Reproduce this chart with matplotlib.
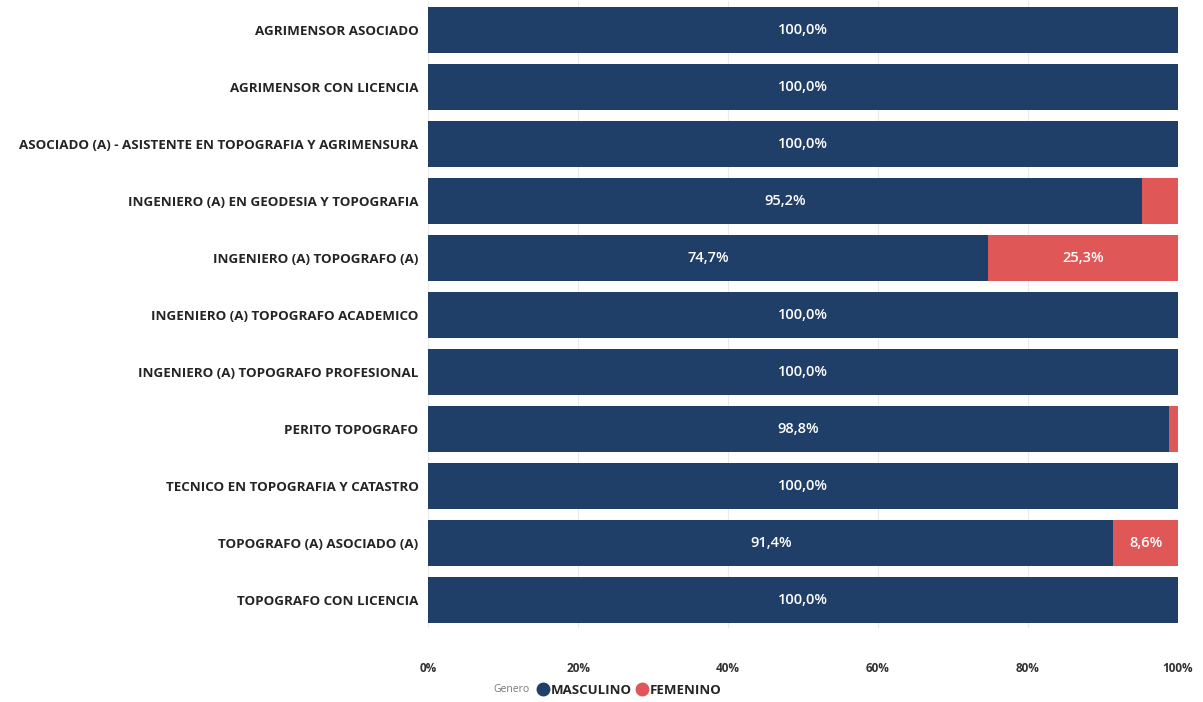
import matplotlib
matplotlib.use("Agg")
import matplotlib.pyplot as plt
from matplotlib.lines import Line2D
from matplotlib.ticker import FuncFormatter

# Participacion por genero segun titulo profesional
titulos = [
    "AGRIMENSOR ASOCIADO",
    "AGRIMENSOR CON LICENCIA",
    "ASOCIADO (A) - ASISTENTE EN TOPOGRAFIA Y AGRIMENSURA",
    "INGENIERO (A) EN GEODESIA Y TOPOGRAFIA",
    "INGENIERO (A) TOPOGRAFO (A)",
    "INGENIERO (A) TOPOGRAFO ACADEMICO",
    "INGENIERO (A) TOPOGRAFO PROFESIONAL",
    "PERITO TOPOGRAFO",
    "TECNICO EN TOPOGRAFIA Y CATASTRO",
    "TOPOGRAFO (A) ASOCIADO (A)",
    "TOPOGRAFO CON LICENCIA",
]
masculino = [100.0, 100.0, 100.0, 95.2, 74.7, 100.0, 100.0, 98.8, 100.0, 91.4, 100.0]
femenino = [0.0, 0.0, 0.0, 4.8, 25.3, 0.0, 0.0, 1.2, 0.0, 8.6, 0.0]

azul = "#203F68"
rojo = "#E05758"
plt.rcParams["font.family"] = ["Open Sans", "DejaVu Sans"]

fig = plt.figure(figsize=(12.03, 7.02), dpi=100)
ax = fig.add_axes([0.356, 0.105, 0.623, 0.893])

y = list(range(len(titulos)))
ax.barh(y, masculino, height=0.8, color=azul, zorder=2)
ax.barh(y, femenino, left=masculino, height=0.8, color=rojo, zorder=2)

# etiquetas de valor, solo si el segmento es suficientemente ancho
def fmt(v):
    return f"{v:.1f}%".replace(".", ",")

for i in y:
    m, f = masculino[i], femenino[i]
    if m > 6:
        ax.text(m / 2, i, fmt(m), ha="center", va="center", color="white",
                fontsize=10.5, fontweight="semibold", zorder=3)
    if f > 6:
        ax.text(m + f / 2, i, fmt(f), ha="center", va="center", color="white",
                fontsize=10.5, fontweight="semibold", zorder=3)

ax.set_ylim(len(titulos) - 0.5, -0.5)
ax.set_xlim(0, 100)
ax.set_yticks(y)
ax.set_yticklabels(titulos, fontsize=9.6, fontweight="bold", color="#252423")
ax.set_xticks([0, 20, 40, 60, 80, 100])
ax.xaxis.set_major_formatter(FuncFormatter(lambda v, p: f"{v:.0f}%"))
for lab in ax.get_xticklabels():
    lab.set_fontsize(8.5)
    lab.set_fontweight("bold")
    lab.set_color("#333333")
ax.tick_params(axis="y", length=0, pad=7)
ax.tick_params(axis="x", length=0, pad=24)
ax.grid(axis="x", color="#EAEAEA", linewidth=0.8, zorder=0)
for s in ax.spines.values():
    s.set_visible(False)

# leyenda
ley_y = 1 - 690 / 702
fig.text(493 / 1203, ley_y, "Genero", fontsize=7.5, color="#777777",
         ha="left", va="center")
handles = [
    Line2D([], [], marker="o", linestyle="", color=azul, markersize=9,
           label="MASCULINO"),
    Line2D([], [], marker="o", linestyle="", color=rojo, markersize=9,
           label="FEMENINO"),
]
leg = fig.legend(handles=handles, loc="center left",
                 bbox_to_anchor=(536 / 1203, ley_y), ncol=2, frameon=False,
                 handletextpad=0.1, columnspacing=0.3, borderaxespad=0,
                 borderpad=0, handlelength=1.0,
                 prop={"size": 9.5, "weight": "bold"})
for t in leg.get_texts():
    t.set_color("#252423")

fig.savefig("out.png", dpi=100)
